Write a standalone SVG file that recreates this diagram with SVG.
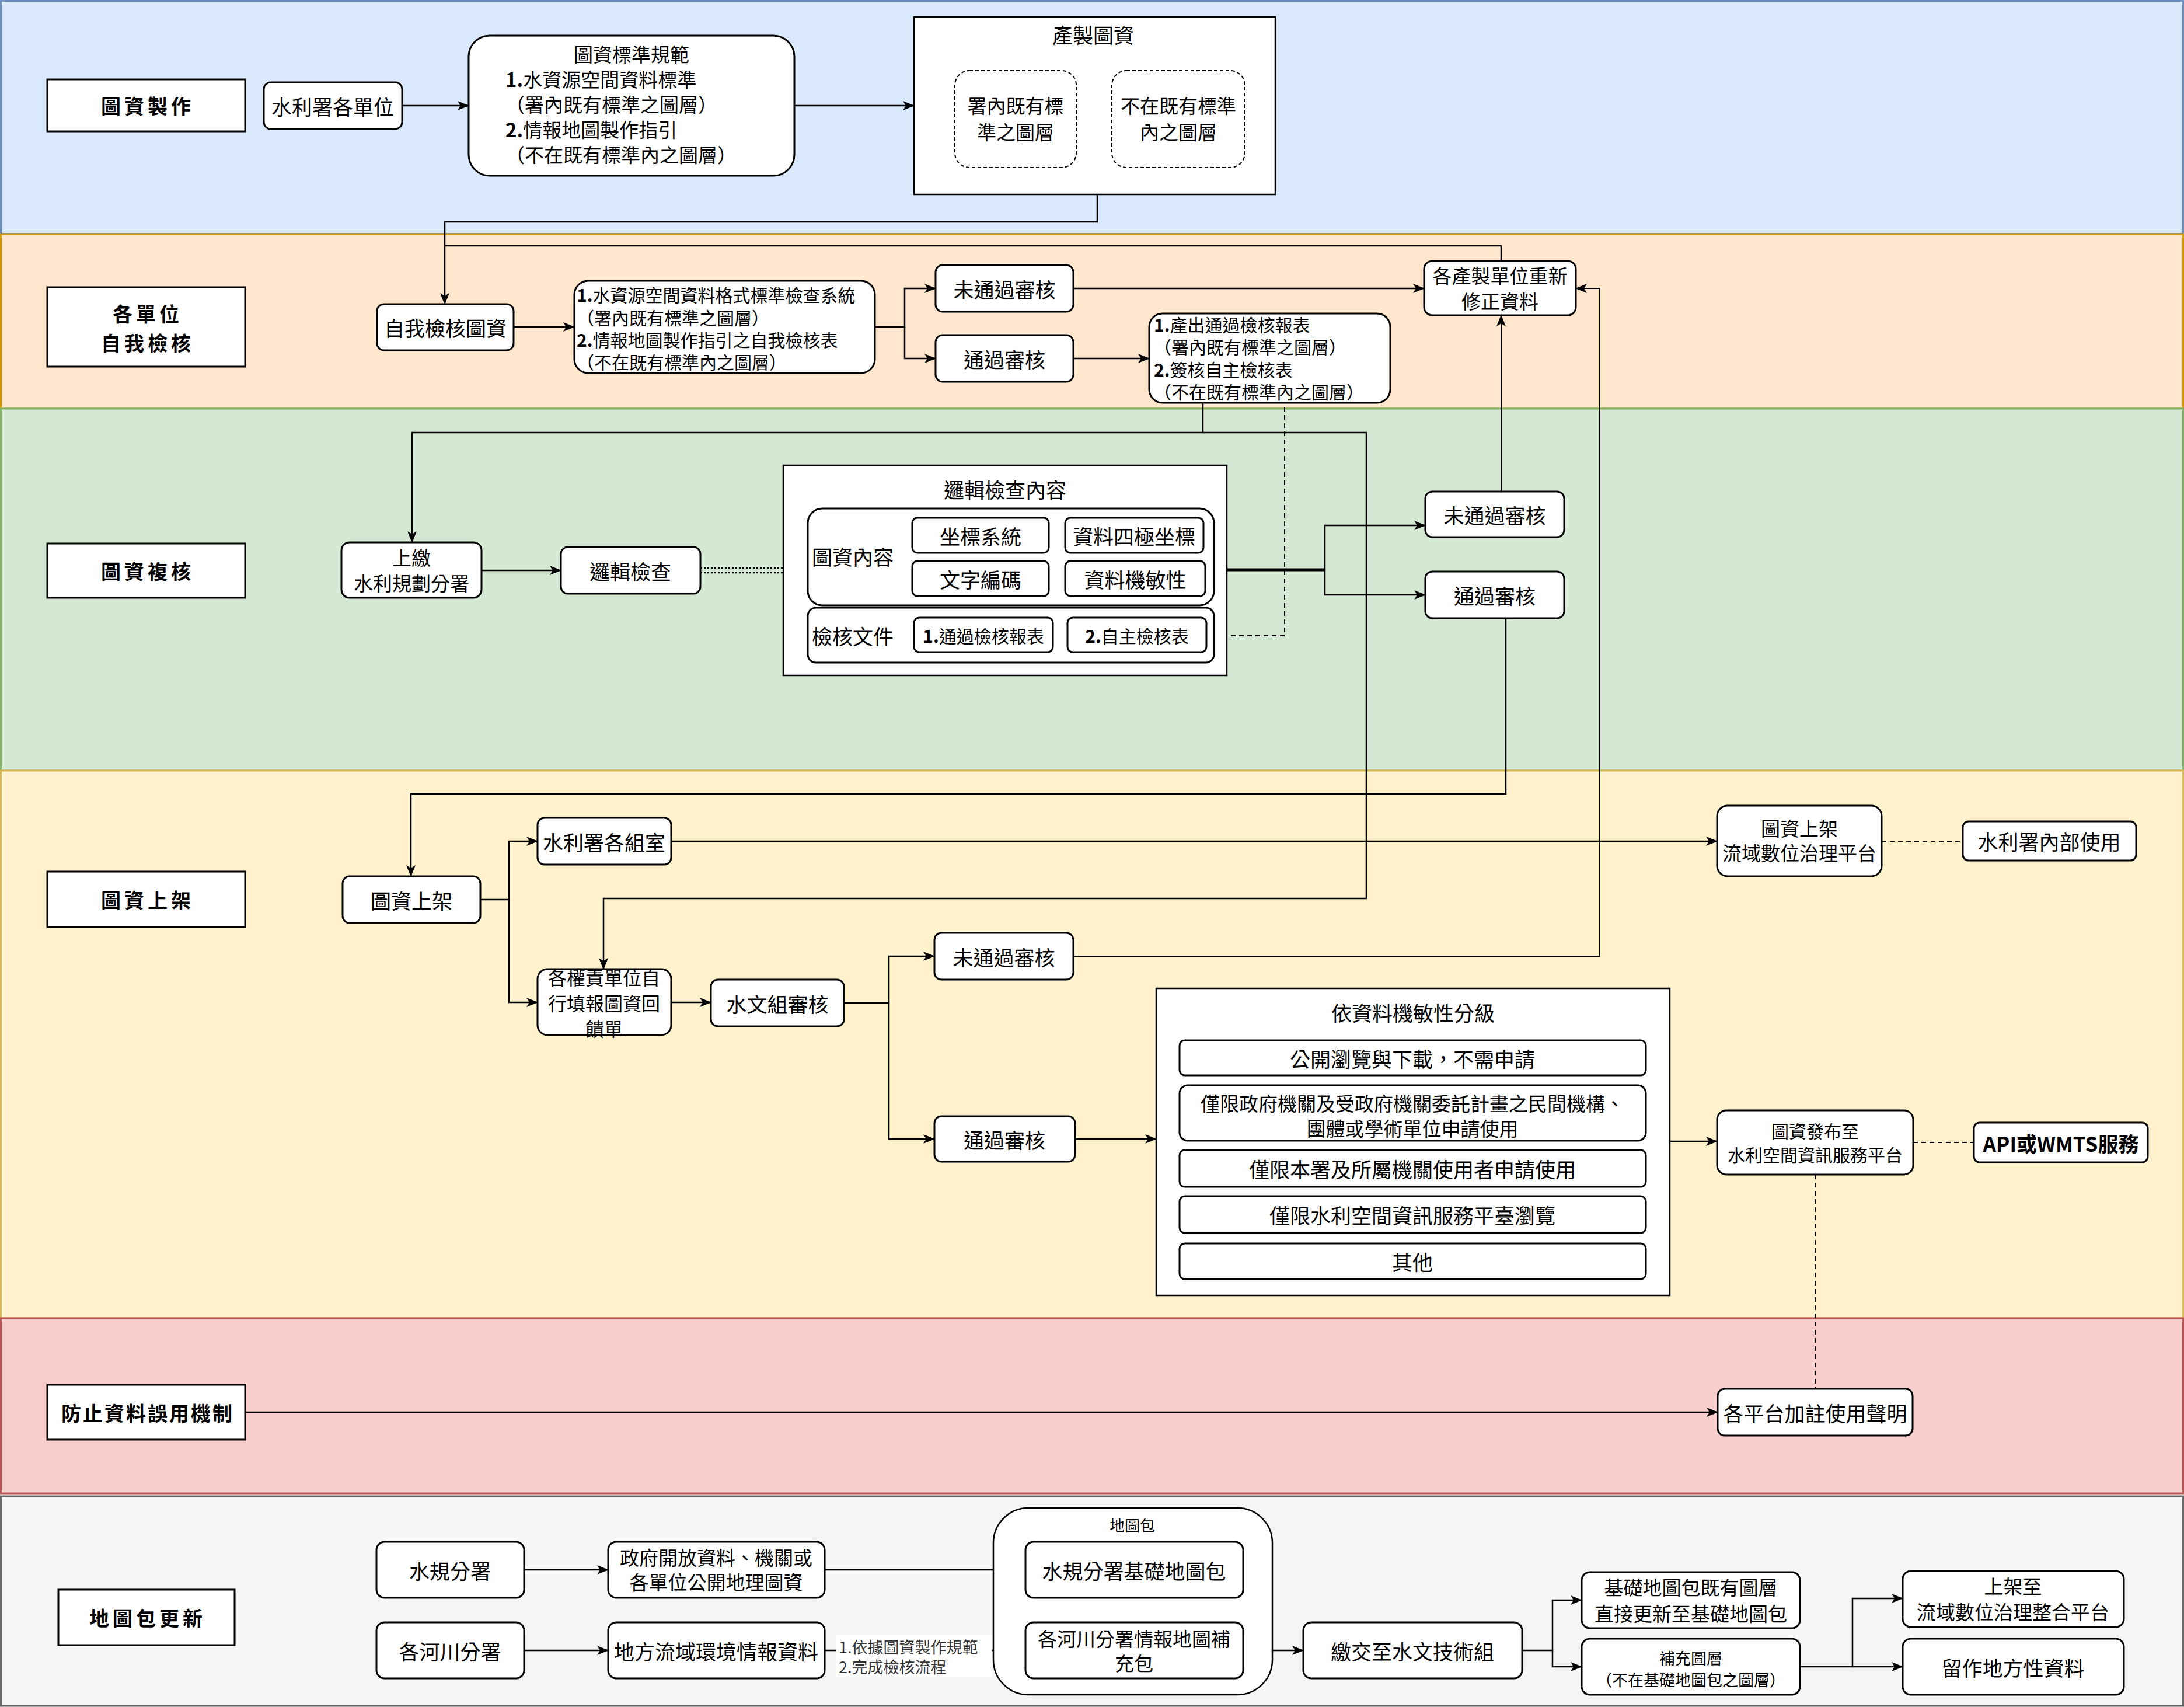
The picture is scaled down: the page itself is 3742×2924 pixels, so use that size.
<svg xmlns="http://www.w3.org/2000/svg" width="3742" height="2924" viewBox="0 0 3742 2924">
<defs>
<style>
text{font-family:"Noto Sans CJK TC","Noto Sans CJK SC",sans-serif;font-size:35px;fill:#000;text-anchor:middle;dominant-baseline:central}
.lab rect{fill:#fff;stroke:#000;stroke-width:3}
.lab text{font-weight:bold;font-size:34px;letter-spacing:6px}
.nd rect{fill:#fff;stroke:#000;stroke-width:3}
.l{text-anchor:start}
.m{font-size:33px}
.s31{font-size:30px}
.s28{font-size:27px}
.b{font-weight:bold}
.c path{fill:none;stroke:#000;stroke-width:2.5}
.c .th{stroke-width:2}
.c .k{stroke-width:5}
.c .d{stroke-dasharray:8 6;stroke-width:2}
.c .dt{stroke-dasharray:3 3;stroke-width:2.5}
.a{marker-end:url(#ar)}
</style>
<marker id="ar" viewBox="0 0 20 16" refX="19" refY="8" markerWidth="20" markerHeight="16" markerUnits="userSpaceOnUse" orient="auto">
<path d="M0,0 L20,8 L0,16 L5,8 z" fill="#000" stroke="none"/>
</marker>
</defs>

<g id="lanes">
<rect x="1.5" y="1.5" width="3739" height="399" fill="#dae8fc" stroke="#6c8ebf" stroke-width="3"/>
<rect x="1.5" y="401" width="3739" height="299" fill="#ffe6cc" stroke="#d79b00" stroke-width="3"/>
<rect x="1.5" y="700" width="3739" height="620" fill="#d5e8d4" stroke="#82b366" stroke-width="3"/>
<rect x="1.5" y="1320" width="3739" height="938" fill="#fff2cc" stroke="#d6b656" stroke-width="3"/>
<rect x="1.5" y="2258" width="3739" height="300" fill="#f8cecc" stroke="#b85450" stroke-width="3"/>
<rect x="1.5" y="2563" width="3739" height="359" fill="#f5f5f5" stroke="#666666" stroke-width="3"/>
</g>

<g id="lane-labels" class="lab">
<g id="lab1"><rect x="81" y="136" width="339" height="89"/><text x="253" y="180">圖資製作</text></g>
<g id="lab2"><rect x="81" y="492" width="339" height="136"/><text x="253" y="536">各單位</text><text x="253" y="586">自我檢核</text></g>
<g id="lab3"><rect x="81" y="931" width="339" height="93"/><text x="253" y="977">圖資複核</text></g>
<g id="lab4"><rect x="81" y="1493" width="339" height="95"/><text x="253" y="1540">圖資上架</text></g>
<g id="lab5"><rect x="81" y="2372" width="339" height="94"/><text x="253" y="2419" style="letter-spacing:3px">防止資料誤用機制</text></g>
<g id="lab6"><rect x="100" y="2723" width="302" height="95"/><text x="253" y="2770">地圖包更新</text></g>
</g>

<g id="connectors" class="c">
<path class="a" d="M689,181 H803"/>
<path class="a" d="M1361,181 H1566"/>
<path class="a" d="M1880,333 V380 H762 V521"/>
<path d="M2572,447 V421 H762"/>
<path class="a" d="M880,560 H984"/>
<path class="a" d="M1499,560 H1550 V494 H1603"/>
<path class="a" d="M1550,560 V614 H1603"/>
<path class="a" d="M1839,494 H2440"/>
<path class="a" d="M1839,614 H1969"/>
<path class="a" d="M2061,690 V741 H706 V929"/>
<path class="a" d="M2061,741 H2341 V1539 H1034 V1660"/>
<path class="d" d="M2067,1089 H2201 V690"/>
<path class="a" d="M825,977 H961"/>
<path class="dt" d="M1200,973 H1342"/>
<path class="dt" d="M1200,981 H1342"/>
<path class="k" d="M2102,976 H2270"/>
<path class="a" d="M2270,976 V900 H2442"/>
<path class="a" d="M2270,976 V1019 H2442"/>
<path class="a th" d="M2572,842 V540"/>
<path class="a" d="M2580,1059 V1360 H704 V1501"/>
<path class="a" d="M823,1541 H872 V1441 H921"/>
<path class="a" d="M872,1541 V1717 H921"/>
<path class="a" d="M1150,1717 H1218"/>
<path class="a" d="M1446,1718 H1523 V1638 H1601"/>
<path class="a" d="M1523,1718 V1951 H1601"/>
<path class="a th" d="M1839,1638 H2741 V494 H2700"/>
<path class="a" d="M1842,1951 H1981"/>
<path class="a" d="M2861,1955 H2942"/>
<path class="d" d="M3278,1957 H3382"/>
<path class="d" d="M3110,2012 V2379"/>
<path class="a" d="M1150,1441 H2942"/>
<path class="d" d="M3224,1441 H3363"/>
<path class="a" d="M420,2419 H2943"/>
<path class="a" d="M898,2689 H1042"/>
<path class="a" d="M1413,2689 H1757"/>
<path class="a" d="M898,2827 H1042"/>
<path class="a" d="M1413,2827 H1757"/>
<path class="a" d="M2130,2827 H2233"/>
<path class="a" d="M2608,2827 H2660 V2741 H2710"/>
<path class="a" d="M2660,2827 V2855 H2710"/>
<path class="a" d="M3084,2855 H3174 V2738 H3260"/>
<path class="a" d="M3174,2855 H3260"/>
<g id="edge-label">
<rect x="1432" y="2800" width="268" height="72" fill="#fff" stroke="none"/>
<text class="l s28" x="1437" y="2820" style="fill:#333">1.依據圖資製作規範</text>
<text class="l s28" x="1437" y="2854" style="fill:#333">2.完成檢核流程</text>
</g>
</g>

<g class="nd">
<g id="n-unit"><rect x="452" y="141" width="237" height="80" rx="12"/><text x="570" y="181">水利署各單位</text></g>
<g id="n-std"><rect x="803" y="61" width="558" height="240" rx="36"/>
<text class="m" x="1082" y="92">圖資標準規範</text>
<text class="l m" x="866" y="135"><tspan class="b">1.</tspan>水資源空間資料標準</text>
<text class="l m" x="866" y="178">（署內既有標準之圖層）</text>
<text class="l m" x="866" y="221"><tspan class="b">2.</tspan>情報地圖製作指引</text>
<text class="l m" x="866" y="264">（不在既有標準內之圖層）</text>
</g>
<g id="n-produce"><rect x="1566" y="29" width="619" height="304" style="stroke-width:2.5"/>
<text x="1873" y="58">產製圖資</text>
<rect x="1636" y="121" width="208" height="166" rx="25" style="stroke-dasharray:6 4;stroke-width:2"/>
<text class="m" x="1740" y="180">署內既有標</text><text class="m" x="1740" y="225">準之圖層</text>
<rect x="1905" y="121" width="228" height="166" rx="25" style="stroke-dasharray:6 4;stroke-width:2"/>
<text class="m" x="2019" y="180">不在既有標準</text><text class="m" x="2019" y="225">內之圖層</text>
</g>

<g id="n-selfcheck"><rect x="646" y="521" width="234" height="79" rx="12"/><text x="763" y="560">自我檢核圖資</text></g>
<g id="n-system"><rect x="984" y="481" width="515" height="158" rx="24"/>
<text class="l s31" x="988" y="504"><tspan class="b">1.</tspan>水資源空間資料格式標準檢查系統</text>
<text class="l s31" x="988" y="543">（署內既有標準之圖層）</text>
<text class="l s31" x="988" y="581"><tspan class="b">2.</tspan>情報地圖製作指引之自我檢核表</text>
<text class="l s31" x="988" y="619">（不在既有標準內之圖層）</text>
</g>
<g id="n-fail2"><rect x="1603" y="454" width="236" height="80" rx="12"/><text x="1721" y="494">未通過審核</text></g>
<g id="n-pass2"><rect x="1603" y="574" width="236" height="80" rx="12"/><text x="1721" y="614">通過審核</text></g>
<g id="n-report"><rect x="1969" y="537" width="413" height="153" rx="23"/>
<text class="l s31" x="1977" y="555"><tspan class="b">1.</tspan>產出通過檢核報表</text>
<text class="l s31" x="1977" y="593">（署內既有標準之圖層）</text>
<text class="l s31" x="1977" y="632"><tspan class="b">2.</tspan>簽核自主檢核表</text>
<text class="l s31" x="1977" y="670">（不在既有標準內之圖層）</text>
</g>
<g id="n-redo"><rect x="2440" y="447" width="260" height="93" rx="14"/><text class="m" x="2570" y="471">各產製單位重新</text><text class="m" x="2570" y="515">修正資料</text></g>

<g id="n-submit"><rect x="585" y="929" width="240" height="95" rx="14"/><text class="m" x="705" y="954">上繳</text><text class="m" x="705" y="998">水利規劃分署</text></g>
<g id="n-logic"><rect x="961" y="937" width="239" height="80" rx="12"/><text x="1080" y="977">邏輯檢查</text></g>
<g id="n-logiccontent"><rect x="1342" y="797" width="760" height="360" style="stroke-width:2.5"/>
<text x="1722" y="837">邏輯檢查內容</text>
<rect x="1384" y="871" width="696" height="166" rx="25"/>
<text x="1461" y="952">圖資內容</text>
<rect x="1563" y="887" width="234" height="60" rx="9"/><text x="1680" y="917">坐標系統</text>
<rect x="1825" y="887" width="237" height="60" rx="9"/><text x="1943" y="917">資料四極坐標</text>
<rect x="1563" y="961" width="234" height="60" rx="9"/><text x="1680" y="991">文字編碼</text>
<rect x="1825" y="961" width="240" height="60" rx="9"/><text x="1945" y="991">資料機敏性</text>
<rect x="1384" y="1041" width="696" height="94" rx="14"/>
<text x="1461" y="1088">檢核文件</text>
<rect x="1566" y="1058" width="238" height="59" rx="9"/><text x="1685" y="1088" style="font-size:30px"><tspan class="b">1.</tspan>通過檢核報表</text>
<rect x="1829" y="1058" width="238" height="59" rx="9"/><text x="1948" y="1088" style="font-size:30px"><tspan class="b">2.</tspan>自主檢核表</text>
</g>
<g id="n-fail3"><rect x="2442" y="842" width="238" height="78" rx="12"/><text x="2561" y="881">未通過審核</text></g>
<g id="n-pass3"><rect x="2442" y="979" width="238" height="80" rx="12"/><text x="2561" y="1019">通過審核</text></g>

<g id="n-publish"><rect x="587" y="1501" width="236" height="80" rx="12"/><text x="705" y="1541">圖資上架</text></g>
<g id="n-rooms"><rect x="921" y="1401" width="229" height="80" rx="12"/><text x="1035" y="1441">水利署各組室</text></g>
<g id="n-feedback"><rect x="921" y="1660" width="229" height="113" rx="17"/><text x="1035" y="1673" style="font-size:32px">各權責單位自</text><text x="1035" y="1717" style="font-size:32px">行填報圖資回</text><text x="1035" y="1761" style="font-size:32px">饋單</text></g>
<g id="n-hydro"><rect x="1218" y="1678" width="228" height="80" rx="12"/><text x="1332" y="1718">水文組審核</text></g>
<g id="n-fail4"><rect x="1601" y="1598" width="238" height="80" rx="12"/><text x="1720" y="1638">未通過審核</text></g>
<g id="n-pass4"><rect x="1601" y="1912" width="241" height="78" rx="12"/><text x="1721" y="1951">通過審核</text></g>
<g id="n-sens"><rect x="1981" y="1693" width="880" height="526" style="stroke-width:2.5"/>
<text x="2421" y="1733">依資料機敏性分級</text>
<rect x="2021" y="1782" width="799" height="60" rx="9"/><text x="2420" y="1812">公開瀏覽與下載，不需申請</text>
<rect x="2021" y="1859" width="799" height="95" rx="14"/><text class="m" x="2420" y="1889">僅限政府機關及受政府機關委託計畫之民間機構、</text><text class="m" x="2420" y="1932">團體或學術單位申請使用</text>
<rect x="2021" y="1970" width="799" height="63" rx="9"/><text x="2420" y="2001">僅限本署及所屬機關使用者申請使用</text>
<rect x="2021" y="2049" width="799" height="63" rx="9"/><text x="2420" y="2080">僅限水利空間資訊服務平臺瀏覽</text>
<rect x="2021" y="2130" width="799" height="61" rx="9"/><text x="2420" y="2160">其他</text>
</g>
<g id="n-gov"><rect x="2942" y="1380" width="282" height="121" rx="18"/><text class="m" x="3083" y="1418">圖資上架</text><text class="m" x="3083" y="1460">流域數位治理平台</text></g>
<g id="n-internal"><rect x="3363" y="1407" width="297" height="67" rx="10"/><text x="3511" y="1440">水利署內部使用</text></g>
<g id="n-release"><rect x="2942" y="1902" width="336" height="110" rx="16"/><text class="s31" x="3110" y="1936">圖資發布至</text><text class="s31" x="3110" y="1977">水利空間資訊服務平台</text></g>
<g id="n-api"><rect x="3382" y="1923" width="298" height="68" rx="10"/><text class="b" x="3531" y="1957">API或WMTS服務</text></g>

<g id="n-notice"><rect x="2943" y="2379" width="334" height="80" rx="12"/><text x="3110" y="2419">各平台加註使用聲明</text></g>

<g id="n-wrp"><rect x="645" y="2641" width="253" height="96" rx="14"/><text x="771" y="2689">水規分署</text></g>
<g id="n-river"><rect x="645" y="2779" width="253" height="96" rx="14"/><text x="771" y="2827">各河川分署</text></g>
<g id="n-open"><rect x="1042" y="2641" width="371" height="96" rx="14"/><text class="m" x="1227" y="2667">政府開放資料、機關或</text><text class="m" x="1227" y="2709">各單位公開地理圖資</text></g>
<g id="n-local"><rect x="1042" y="2779" width="371" height="96" rx="14"/><text x="1227" y="2827">地方流域環境情報資料</text></g>
<g id="n-pack"><rect x="1702" y="2583" width="478" height="320" rx="60" style="stroke-width:2.5"/>
<text x="1940" y="2611" style="font-size:26px">地圖包</text>
<rect x="1757" y="2641" width="373" height="96" rx="14"/><text x="1943" y="2689">水規分署基礎地圖包</text>
<rect x="1757" y="2779" width="373" height="96" rx="14"/><text class="m" x="1943" y="2806">各河川分署情報地圖補</text><text class="m" x="1943" y="2848">充包</text>
</g>
<g id="n-hand"><rect x="2233" y="2779" width="375" height="96" rx="14"/><text x="2420" y="2827">繳交至水文技術組</text></g>
<g id="n-base"><rect x="2710" y="2693" width="374" height="96" rx="14"/><text class="m" x="2897" y="2718">基礎地圖包既有圖層</text><text class="m" x="2897" y="2763">直接更新至基礎地圖包</text></g>
<g id="n-supp"><rect x="2710" y="2807" width="374" height="96" rx="14"/><text class="s28" x="2897" y="2839">補充圖層</text><text class="s28" x="2897" y="2876">（不在基礎地圖包之圖層）</text></g>
<g id="n-up"><rect x="3260" y="2691" width="379" height="96" rx="14"/><text class="m" x="3449" y="2716">上架至</text><text class="m" x="3449" y="2760">流域數位治理整合平台</text></g>
<g id="n-keep"><rect x="3260" y="2807" width="379" height="96" rx="14"/><text x="3449" y="2855">留作地方性資料</text></g>
</g>
</svg>
